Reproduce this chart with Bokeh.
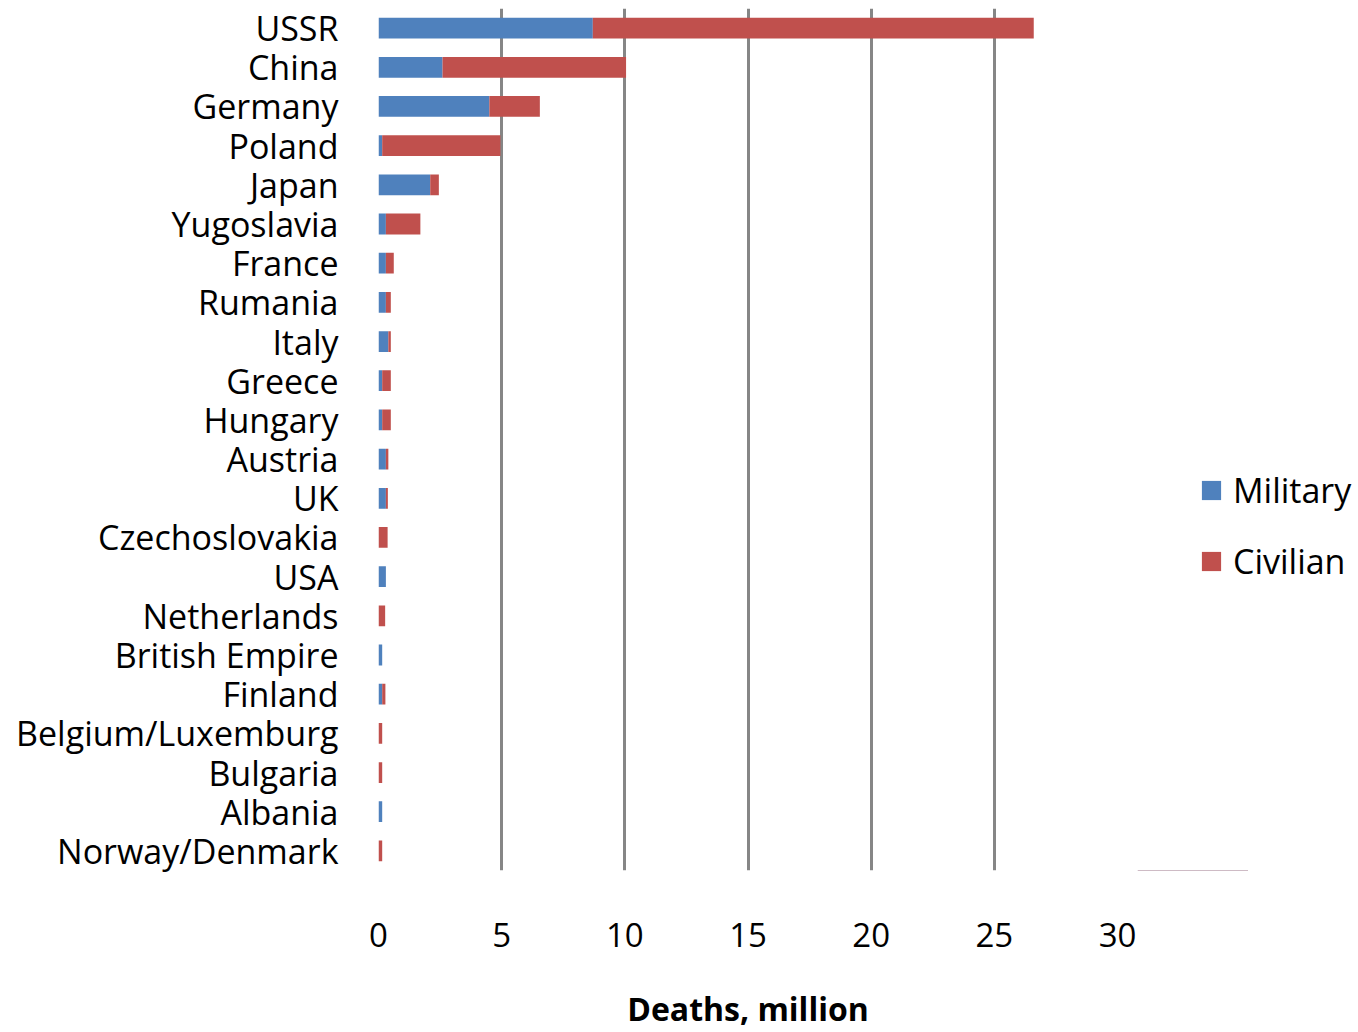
from bokeh.plotting import figure
from bokeh.layouts import row
from bokeh.models import FactorRange, Range1d, Legend, LegendItem, FixedTicker
from bokeh.embed import file_html
from bokeh.resources import INLINE

countries = ["USSR", "China", "Germany", "Poland", "Japan", "Yugoslavia", "France",
             "Rumania", "Italy", "Greece", "Hungary", "Austria", "UK", "Czechoslovakia",
             "USA", "Netherlands", "British Empire", "Finland", "Belgium/Luxemburg",
             "Bulgaria", "Albania", "Norway/Denmark"]
military = [8.7, 2.6, 4.5, 0.15, 2.1, 0.3, 0.3, 0.3, 0.4, 0.15, 0.15, 0.3, 0.3, 0.0,
            0.3, 0.0, 0.15, 0.15, 0.0, 0.0, 0.15, 0.0]
civilian = [17.9, 7.45, 2.05, 4.8, 0.35, 1.4, 0.32, 0.2, 0.1, 0.35, 0.35, 0.1, 0.08, 0.37,
            0.0, 0.27, 0.0, 0.13, 0.15, 0.15, 0.0, 0.15]
series = ["Military", "Civilian"]
colors = ["#4F81BD", "#C0504D"]
x_ticks = [0, 5, 10, 15, 20, 25, 30]
x_title = "Deaths, million"

FONT = "Open Sans"

# ---- main chart ----
p = figure(width=1137, height=1032, output_backend="svg", toolbar_location=None,
           y_range=FactorRange(factors=list(reversed(countries)), range_padding=0),
           x_range=Range1d(0, 30),
           min_border_left=378, min_border_right=20, min_border_top=8, min_border_bottom=162)
p.outline_line_color = None
p.background_fill_color = "white"

data = dict(country=countries, Military=military, Civilian=civilian)
p.hbar_stack(series, y="country", height=0.53, color=colors, source=data, line_color=None)

p.xgrid.ticker = FixedTicker(ticks=x_ticks)
p.xgrid.grid_line_color = "#868686"
p.xgrid.grid_line_width = 3
p.ygrid.grid_line_color = None

p.xaxis.ticker = FixedTicker(ticks=x_ticks)
p.xaxis.axis_line_color = None
p.xaxis.major_tick_line_color = None
p.xaxis.minor_tick_line_color = None
p.xaxis.major_label_text_font = FONT
p.xaxis.major_label_text_font_size = "33px"
p.xaxis.major_label_text_color = "black"
p.xaxis.major_label_standoff = 46
p.xaxis.axis_label = x_title
p.xaxis.axis_label_text_font = FONT
p.xaxis.axis_label_text_font_size = "32px"
p.xaxis.axis_label_text_font_style = "bold"
p.xaxis.axis_label_text_color = "black"
p.xaxis.axis_label_standoff = 37

p.yaxis.axis_line_color = None
p.yaxis.major_tick_line_color = None
p.yaxis.minor_tick_line_color = None
p.yaxis.major_label_text_font = FONT
p.yaxis.major_label_text_font_size = "34px"
p.yaxis.major_label_text_color = "black"
p.yaxis.major_label_standoff = 34

# ---- legend panel (its frame is aligned with the main chart's frame in the row) ----
lp = figure(width=221, height=1032, output_backend="svg", toolbar_location=None,
            x_axis_location=None, y_axis_location=None, min_border=0,
            x_range=Range1d(0, 1), y_range=Range1d(0, 1))
lp.outline_line_color = None
lp.xgrid.grid_line_color = None
lp.ygrid.grid_line_color = None
# swatch renderers for the legend only; kept outside the visible range
legend_rs = [lp.hbar(y=[-1], left=[0], right=[0.5], height=0.5, color=c, line_color=None)
             for c in colors]

legend = Legend(items=[LegendItem(label=s, renderers=[r]) for s, r in zip(series, legend_rs)],
                location=(62, 286), orientation="vertical")
legend.label_text_font = FONT
legend.label_text_font_size = "34px"
legend.label_text_color = "black"
legend.glyph_width = 24
legend.glyph_height = 24
legend.label_standoff = 10
legend.spacing = 25
legend.border_line_color = None
legend.background_fill_alpha = 0
legend.padding = 0
legend.margin = 0
lp.add_layout(legend, "center")

layout = row(p, lp, spacing=0)
open("out.html", "w").write(file_html(layout, INLINE))
